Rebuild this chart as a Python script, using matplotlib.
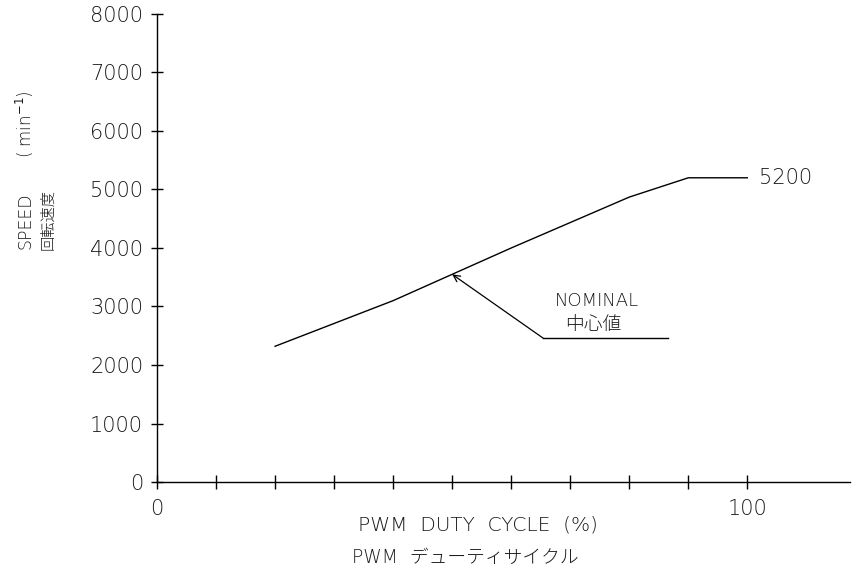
import matplotlib
matplotlib.use("Agg")
import matplotlib.pyplot as plt

plt.rcParams['font.family'] = ['DejaVu Sans', 'Noto Sans CJK JP']

# data
duty = [20, 40, 50, 60, 80, 90, 100]
speed = [2320, 3100, 3550, 4000, 4870, 5200, 5200]
yticks = [0, 1000, 2000, 3000, 4000, 5000, 6000, 7000, 8000]
xticks = [0, 10, 20, 30, 40, 50, 60, 70, 80, 90, 100]
xticklabels = ["0", "", "", "", "", "", "", "", "", "", "100"]
nominal_tip = (50, 3550)
nominal_leader_x = [65.4, 86.5]
nominal_leader_y = [2460, 2460]
label_5200 = "5200"

W = 200
tc = '#1a1a1a'
fig = plt.figure(figsize=(8.58, 5.66), dpi=100)
ax = fig.add_axes([0.183, 0.1484, 0.9907 - 0.183, 0.9753 - 0.1484])

ax.plot(duty, speed, color='black', lw=1.0)
ax.plot(nominal_leader_x, nominal_leader_y, color='black', lw=1.0)
ax.annotate("", xy=nominal_tip, xytext=(nominal_leader_x[0], nominal_leader_y[0]),
            arrowprops=dict(arrowstyle='->', color='black', lw=0.9,
                            mutation_scale=12, shrinkA=0, shrinkB=0))

def fx(px):
    return (px - 157) / 5.905

def fy(py):
    return (482 - py) / 58.46 * 1000

ax.text(fx(597), fy(301), "NOMINAL", ha='center', va='center', fontsize=13, color=tc, fontweight=W)
ax.text(fx(593), fy(325), "中心値", ha='center', va='center', fontsize=13.5, color=tc, fontweight=W)
ax.text(fx(759), 5200, label_5200, ha='left', va='center', fontsize=15, color=tc, fontweight=W)

ax.set_xlim(0, 117.4)
ax.set_ylim(0, 8000)
ax.spines['top'].set_visible(False)
ax.spines['right'].set_visible(False)
ax.spines['left'].set_linewidth(1.0)
ax.spines['bottom'].set_linewidth(1.0)

ax.set_yticks(yticks)
ax.set_yticklabels([str(v) for v in yticks], fontsize=15, color=tc, fontweight=W)
ax.set_xticks(xticks)
ax.set_xticklabels(xticklabels, fontsize=15, color=tc, fontweight=W)
ax.tick_params(axis='y', direction='inout', length=8, width=1.0, pad=6)
ax.tick_params(axis='x', direction='inout', length=10, width=1.0, pad=7)

fig.text(25/858, 1 - 221/566, "SPEED", rotation=90, ha='center', va='center', fontsize=12.5, color=tc, fontweight=W)
fig.text(48/858, 1 - 219/566, "回転速度", rotation=90, ha='center', va='center', fontsize=11, color=tc, fontweight=W)
fig.text(25/858, 1 - 124/566, "( min$^{-1}$)", rotation=90, ha='center', va='center', fontsize=12, color=tc, fontweight=W)

fig.text(478/858, 1 - 525/566, "PWM  DUTY  CYCLE  (%)", ha='center', va='center', fontsize=14.5, color=tc, fontweight=W)
fig.text(352/858, 1 - 557/566, "PWM  デューティサイクル", ha='left', va='center', fontsize=13.5, color=tc, fontweight=W)

fig.savefig("out.png", dpi=100)
